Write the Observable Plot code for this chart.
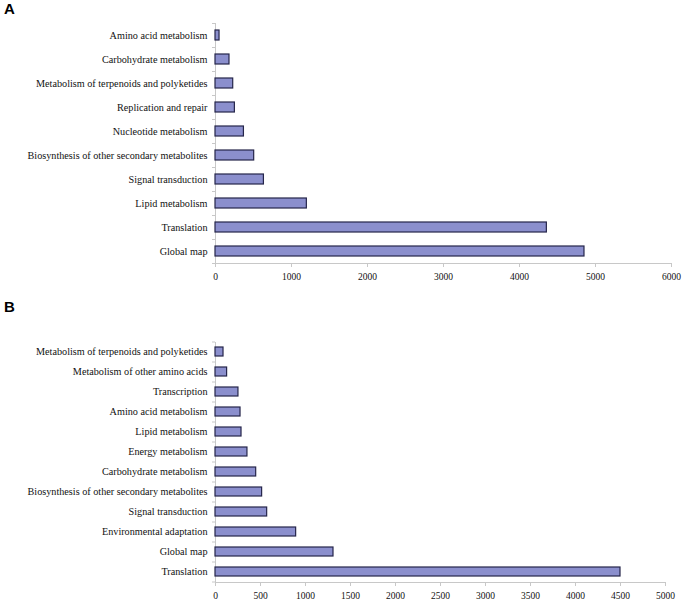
<!DOCTYPE html>
<html>
<head>
<meta charset="utf-8">
<script src="https://cdn.jsdelivr.net/npm/d3@7"></script>
<script src="https://cdn.jsdelivr.net/npm/@observablehq/plot@0.6"></script>
<style>
  html, body { margin: 0; padding: 0; background: #fff; }
  #wrap { position: relative; width: 682px; height: 603px; overflow: hidden; }
  .panel { position: absolute; left: 0; }
  .panel svg text { font-family: "Liberation Serif", "Times New Roman", serif !important; }
  .letter { position: absolute; left: 4px; z-index: 2; font: bold 15px "Liberation Sans", Arial, sans-serif; color: #000; }
</style>
</head>
<body>
<div id="wrap">
  <div class="panel" id="pa" style="top:0px"></div>
  <div class="panel" id="pb" style="top:290px"></div>
  <div class="letter" style="top:0px">A</div>
  <div class="letter" style="top:298px">B</div>
</div>
<script>
// Panel A
const catsA = ["Amino acid metabolism", "Carbohydrate metabolism", "Metabolism of terpenoids and polyketides",
  "Replication and repair", "Nucleotide metabolism", "Biosynthesis of other secondary metabolites",
  "Signal transduction", "Lipid metabolism", "Translation", "Global map"];
const valsA = [53, 184, 233, 255, 374, 509, 637, 1202, 4360, 4855];
const ticksA = [0, 1000, 2000, 3000, 4000, 5000, 6000];

// Panel B
const catsB = ["Metabolism of terpenoids and polyketides", "Metabolism of other amino acids", "Transcription",
  "Amino acid metabolism", "Lipid metabolism", "Energy metabolism", "Carbohydrate metabolism",
  "Biosynthesis of other secondary metabolites", "Signal transduction", "Environmental adaptation",
  "Global map", "Translation"];
const valsB = [89, 129, 255, 278, 289, 355, 452, 518, 574, 896, 1311, 4500];
const ticksB = [0, 500, 1000, 1500, 2000, 2500, 3000, 3500, 4000, 4500, 5000];

const FILL = "#8b8fcd", EDGE = "#25254a", AXIS = "#c8c8c8";
const FONT = "'Liberation Serif', 'Times New Roman', serif";

function panel(cats, vals, ticks, o) {
  const data = cats.map((c, i) => ({cat: c, v: vals[i]}));
  const step = (o.height - o.marginTop - o.marginBottom) / cats.length;
  const xmax = ticks[ticks.length - 1];
  const pxPerUnit = (o.width - o.marginLeft - o.marginRight) / xmax;
  const tl = 3 / pxPerUnit;
  return Plot.plot({
    width: o.width, height: o.height,
    marginLeft: o.marginLeft, marginRight: o.marginRight,
    marginTop: o.marginTop, marginBottom: o.marginBottom,
    style: `font-family: ${FONT}; font-size: 10px; color: #222; background: #fff; overflow: visible;`,
    x: {domain: [0, xmax], ticks: ticks},
    y: {domain: cats, paddingInner: o.pad, paddingOuter: o.pad / 2},
    marks: [
      Plot.frame({anchor: "left", stroke: AXIS}),
      Plot.frame({anchor: "bottom", stroke: AXIS}),
      Plot.ruleY(cats, {y: d => d, x1: -tl, x2: 0, dy: -step / 2, stroke: AXIS}),
      Plot.ruleY([cats[cats.length - 1]], {y: d => d, x1: -tl, x2: 0, dy: step / 2, stroke: AXIS}),
      Plot.barX(data, {y: "cat", x: "v", fill: FILL, stroke: EDGE, strokeWidth: 1.2}),
      Plot.axisY({tickSize: 0, tickPadding: 8, label: null, fontSize: 10.2, fill: "#111"}),
      Plot.axisX({ticks: ticks, tickSize: 4, tickPadding: o.tickPad, stroke: AXIS, fill: "#111", label: null, fontSize: 9.5, tickFormat: d => String(d)})
    ]
  });
}

document.getElementById("pa").append(panel(catsA, valsA, ticksA, {
  width: 682, height: 290, marginLeft: 215, marginRight: 11, marginTop: 23, marginBottom: 27, pad: 0.58, tickPad: 6
}));
document.getElementById("pb").append(panel(catsB, valsB, ticksB, {
  width: 682, height: 313, marginLeft: 215, marginRight: 17, marginTop: 52, marginBottom: 21, pad: 0.53, tickPad: 6
}));
</script>
</body>
</html>
